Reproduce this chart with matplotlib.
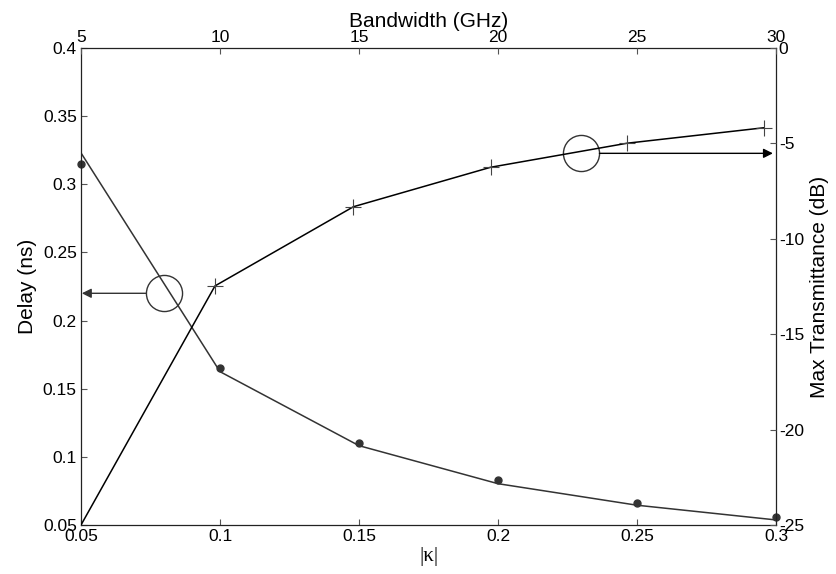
import matplotlib.pyplot as plt
import numpy as np

plt.rcParams['font.family'] = ['Liberation Sans', 'DejaVu Sans']
plt.rcParams['axes.unicode_minus'] = False

# coupling coefficient vs delay
kappa = [0.05, 0.1, 0.15, 0.2, 0.25, 0.3]
delay_sim = [0.323, 0.1625, 0.1082, 0.0803, 0.0645, 0.0537]
delay_meas = [0.315, 0.165, 0.1104, 0.0833, 0.0664, 0.0557]

# bandwidth vs max transmittance
bandwidth = [5, 9.82, 14.80, 19.74, 24.65, 29.57]
transmittance = [-25, -12.47, -8.32, -6.25, -4.99, -4.18]

kappa_ticks = [0.05, 0.1, 0.15, 0.2, 0.25, 0.3]
delay_ticks = [0.05, 0.1, 0.15, 0.2, 0.25, 0.3, 0.35, 0.4]
bw_ticks = [5, 10, 15, 20, 25, 30]
trans_ticks = [-25, -20, -15, -10, -5, 0]

fig = plt.figure(figsize=(8.36, 5.74), dpi=100)
ax = fig.add_axes([0.0969, 0.0854, 0.8313, 0.8310])

dark = '#333333'
ax.plot(kappa, delay_sim, color=dark, lw=1.1)
ax.plot(kappa, delay_meas, 'o', color=dark, ms=5, clip_on=False)
ax.set_xlim(0.05, 0.3)
ax.set_ylim(0.05, 0.4)
ax.set_xticks(kappa_ticks)
ax.set_xticklabels(['0.05', '0.1', '0.15', '0.2', '0.25', '0.3'])
ax.set_yticks(delay_ticks)
ax.set_yticklabels(['0.05', '0.1', '0.15', '0.2', '0.25', '0.3', '0.35', '0.4'])
ax.tick_params(direction='in', length=4, width=0.8, labelsize=12.5, pad=3,
               top=False, right=False, color='#555555')
ax.set_ylabel('Delay (ns)', fontsize=15, labelpad=4)
ax.set_xlabel('|κ|', fontsize=15, family='Liberation Serif', labelpad=2)
for s in ax.spines.values():
    s.set_linewidth(0.9)
    s.set_color('#222222')

# circles + arrows pointing to the relevant axis
ax.plot([0.08], [0.22], 'o', ms=26, mfc='none', mec=dark, mew=1.0)
ax.plot([0.23], [0.3227], 'o', ms=26, mfc='none', mec=dark, mew=1.0)
ax.annotate('', xy=(0.0503, 0.22), xytext=(0.0735, 0.22),
            arrowprops=dict(arrowstyle='-|>', color=dark, lw=1.0,
                            mutation_scale=14, shrinkA=0, shrinkB=0))
ax.annotate('', xy=(0.2989, 0.3227), xytext=(0.2365, 0.3227),
            arrowprops=dict(arrowstyle='-|>', color='black', lw=1.0,
                            mutation_scale=14, shrinkA=0, shrinkB=0))

ax2 = fig.add_axes(ax.get_position(), frameon=False)
ax2.plot(bandwidth, transmittance, color='black', lw=1.1)
ax2.plot(bandwidth[1:], transmittance[1:], '+', color='#444444', ms=12, mew=0.8)
ax2.set_xlim(5, 30)
ax2.set_ylim(-25, 0)
ax2.set_xticks(bw_ticks)
ax2.set_yticks(trans_ticks)
ax2.xaxis.tick_top()
ax2.yaxis.tick_right()
ax2.xaxis.set_label_position('top')
ax2.yaxis.set_label_position('right')
ax2.tick_params(direction='in', length=4, width=0.8, labelsize=12.5, pad=2,
                color='#555555')
ax2.set_xlabel('Bandwidth (GHz)', fontsize=15, labelpad=2)
ax2.set_ylabel('Max Transmittance (dB)', fontsize=15, labelpad=4)

fig.savefig('out.png', dpi=100)
